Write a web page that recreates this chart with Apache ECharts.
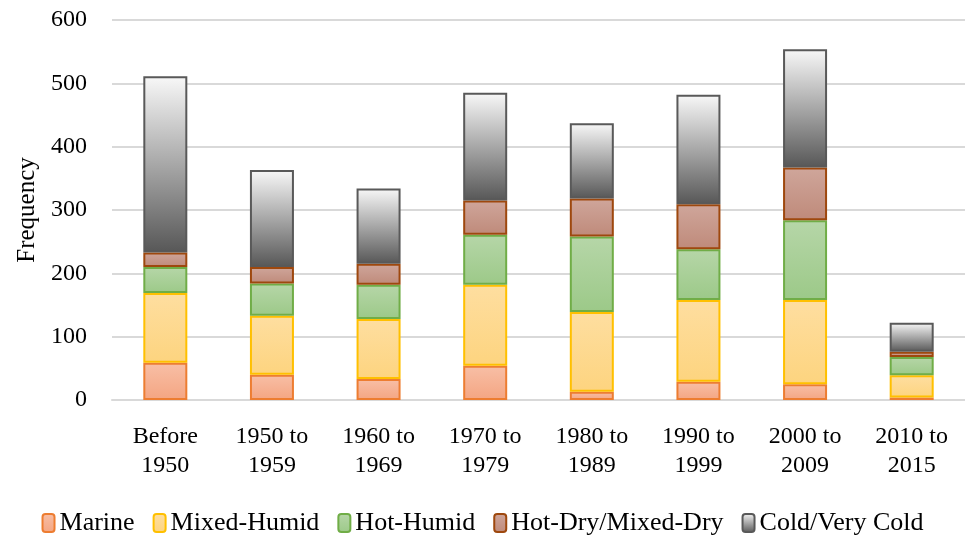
<!DOCTYPE html>
<html>
<head>
<meta charset="utf-8">
<script src="https://cdn.jsdelivr.net/npm/echarts@6/dist/echarts.min.js"></script>
<style>
  html, body { margin: 0; padding: 0; background: #fff; }
  #chart { width: 965px; height: 537px; }
</style>
</head>
<body>
<div id="chart"></div>
<script>
// categories along the x axis
var periods = ['Before\n1950', '1950 to\n1959', '1960 to\n1969', '1970 to\n1979', '1980 to\n1989', '1990 to\n1999', '2000 to\n2009', '2010 to\n2015']
// stacked values per climate zone
var marine = [59, 40, 33, 54, 13, 29, 25, 4]
var mixedHumid = [110, 93, 95, 128, 126, 129, 133, 35]
var hotHumid = [41, 51, 54, 79, 119, 80, 126, 29]
var hotDry = [23, 26, 33, 54, 60, 71, 83, 8]
var cold = [278, 153, 119, 170, 119, 173, 187, 46]
var yTicks = [0, 100, 200, 300, 400, 500, 600]

var font = '"Liberation Serif", "Times New Roman", serif'

var chart = echarts.init(document.getElementById('chart'))

function grad(top, bottom) {
    return new echarts.graphic.LinearGradient(0, 0, 0, 1, [
        { offset: 0, color: top },
        { offset: 1, color: bottom }
    ])
}

function zone(name, data, top, bottom, border) {
    return {
        name: name,
        type: 'bar',
        stack: 'total',
        barWidth: 44,
        data: data,
        itemStyle: {
            color: grad(top, bottom),
            borderColor: border,
            borderWidth: 2
        }
    }
}

var option = {
    animation: false,
    textStyle: { fontFamily: font },
    grid: {
        left: 112,
        right: 0,
        top: 20,
        bottom: 137
    },
    legend: {
        top: 510,
        left: 'center',
        padding: 0,
        itemWidth: 12,
        itemHeight: 18,
        itemGap: 18,
        textStyle: { fontFamily: font, fontSize: 26, color: '#000' },
        data: ['Marine', 'Mixed-Humid', 'Hot-Humid', 'Hot-Dry/Mixed-Dry', 'Cold/Very Cold']
    },
    xAxis: {
        type: 'category',
        data: periods,
        axisLine: { lineStyle: { color: '#d9d9d9', width: 2 } },
        axisTick: { show: false },
        axisLabel: {
            color: '#000',
            fontFamily: font,
            fontSize: 24,
            lineHeight: 29,
            margin: 22,
            interval: 0
        }
    },
    yAxis: {
        type: 'value',
        min: yTicks[0],
        max: yTicks[yTicks.length - 1],
        interval: 100,
        name: 'Frequency',
        nameLocation: 'middle',
        nameGap: 70,
        nameTextStyle: { color: '#000', fontFamily: font, fontSize: 25 },
        axisLine: { show: false },
        axisTick: { show: false },
        splitLine: { lineStyle: { color: '#d9d9d9', width: 2 } },
        axisLabel: { color: '#000', fontFamily: font, fontSize: 24, margin: 25 }
    },
    series: [
        zone('Marine', marine, '#f8bfa6', '#f4a582', '#ed7d31'),
        zone('Mixed-Humid', mixedHumid, '#fedea0', '#fdd47f', '#ffc000'),
        zone('Hot-Humid', hotHumid, '#b6d6a8', '#9cc988', '#70ad47'),
        zone('Hot-Dry/Mixed-Dry', hotDry, '#cfa69b', '#bf8a7a', '#9e480e'),
        zone('Cold/Very Cold', cold, '#f8f8f8', '#575757', '#595959')
    ]
}

chart.setOption(option)
</script>
</body>
</html>
